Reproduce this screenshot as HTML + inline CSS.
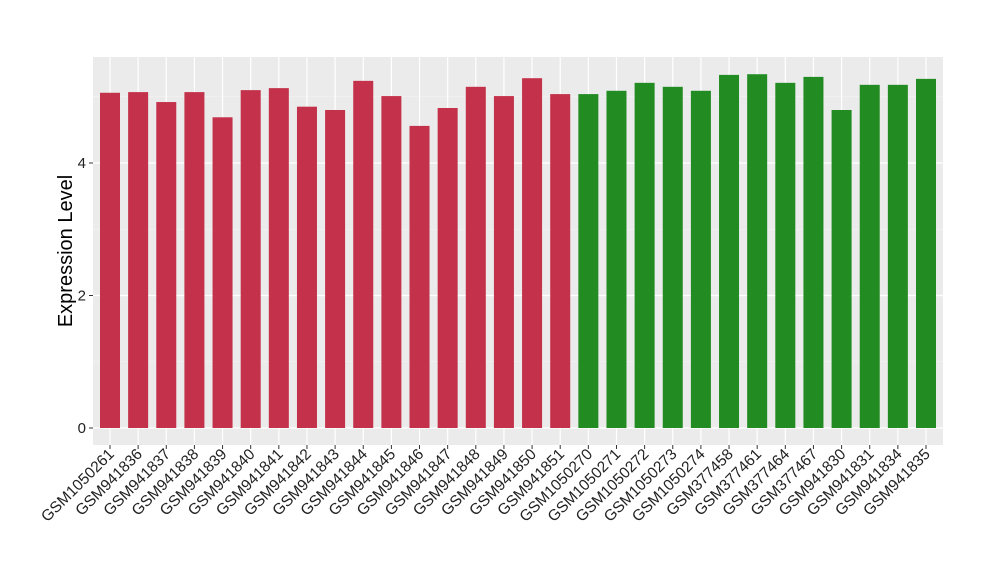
<!DOCTYPE html>
<html><head><meta charset="utf-8"><style>
body{margin:0;background:#fff}
text{font-family:"Liberation Sans",sans-serif}
</style></head><body>
<svg id="chart" width="1000" height="580" xmlns="http://www.w3.org/2000/svg">
<rect x="93" y="57" width="850" height="388" fill="#ebebeb"/>
<g id="grid"></g><g id="bars"></g><g id="yaxis"></g><g id="xaxis"></g>
<text transform="translate(72,251) rotate(-90)" text-anchor="middle" font-size="20">Expression Level</text>
</svg>
<script>
const categories=["GSM1050261","GSM941836","GSM941837","GSM941838","GSM941839","GSM941840","GSM941841","GSM941842","GSM941843","GSM941844","GSM941845","GSM941846","GSM941847","GSM941848","GSM941849","GSM941850","GSM941851","GSM1050270","GSM1050271","GSM1050272","GSM1050273","GSM1050274","GSM377458","GSM377461","GSM377464","GSM377467","GSM941830","GSM941831","GSM941834","GSM941835"];
const values=[5.06,5.07,4.92,5.07,4.69,5.10,5.13,4.85,4.80,5.24,5.01,4.56,4.83,5.15,5.01,5.28,5.04,5.04,5.09,5.21,5.15,5.09,5.33,5.34,5.21,5.30,4.80,5.18,5.18,5.27];
const groups=["d","d","d","d","d","d","d","d","d","d","d","d","d","d","d","d","d","c","c","c","c","c","c","c","c","c","c","c","c","c"];
const yTicks=[0,2,4];
const NS="http://www.w3.org/2000/svg";
const y=v=>428-v*66.25;
const x=i=>110+i*(926-110)/(categories.length-1);
function mk(t,a,p){const e=document.createElementNS(NS,t);for(const k in a)e.setAttribute(k,a[k]);p.appendChild(e);return e;}
const grid=document.getElementById('grid'),bars=document.getElementById('bars'),ya=document.getElementById('yaxis'),xa=document.getElementById('xaxis');
[1,3,5].forEach(v=>{const l=mk('line',{x1:93,x2:943,y1:y(v),y2:y(v),stroke:'#f5f5f5','stroke-width':0.6},grid);

});
yTicks.forEach(v=>{const l=mk('line',{x1:93,x2:943,y1:y(v),y2:y(v),stroke:'#fff','stroke-width':1.2},grid);


const tk=mk('line',{x1:89,x2:93,y1:y(v),y2:y(v),stroke:'#333'},ya);


const t=mk('text',{x:86,y:y(v)+5,'text-anchor':'end','font-size':15,fill:'#222'},ya);t.textContent=v;

});
categories.forEach((c,i)=>{const g=mk('line',{x1:x(i),x2:x(i),y1:57,y2:445,stroke:'#fff','stroke-width':1.2},grid);


const b=mk('rect',{x:x(i)-10,y:y(values[i]),width:20,height:y(0)-y(values[i]),fill:groups[i]=='d'?'#c3314a':'#228b22'},bars);


const tk=mk('line',{x1:x(i),x2:x(i),y1:445,y2:449,stroke:'#333'},xa);


const t=mk('text',{transform:`translate(${x(i)+5},${455}) rotate(-45)`,'text-anchor':'end','font-size':15.5,fill:'#222'},xa);t.textContent=c;

});
</script>
</body></html>
